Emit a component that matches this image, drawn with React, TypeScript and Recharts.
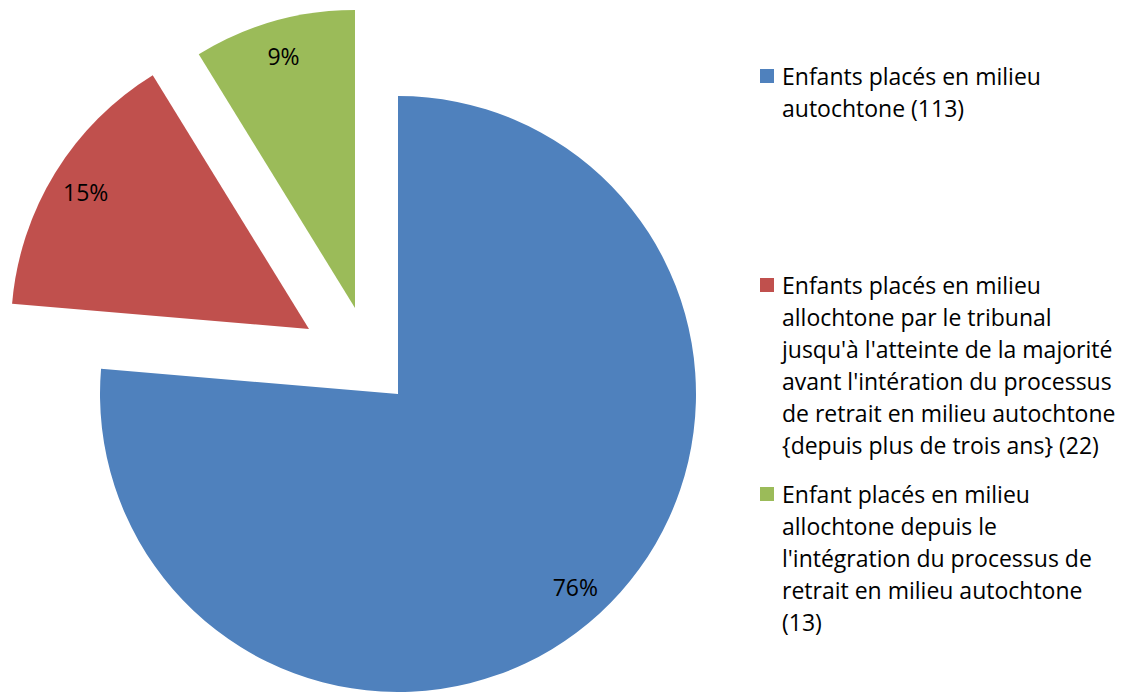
import React from 'react';
import { PieChart, Pie, Cell, Legend } from 'recharts';

// data
const categories = [
  'Enfants placés en milieu autochtone (113)',
  "Enfants placés en milieu allochtone par le tribunal jusqu'à l'atteinte de la majorité avant l'intération du processus de retrait en milieu autochtone {depuis plus de trois ans} (22)",
  "Enfant placés en milieu allochtone depuis le l'intégration du processus de retrait en milieu autochtone (13)"
];
const counts = [113, 22, 13];
const legendLines = [
  ['Enfants placés en milieu', 'autochtone (113)'],
  [
    'Enfants placés en milieu',
    'allochtone par le tribunal',
    "jusqu'à l'atteinte de la majorité",
    "avant l'intération du processus",
    'de retrait en milieu autochtone',
    '{depuis plus de trois ans} (22)'
  ],
  [
    'Enfant placés en milieu',
    'allochtone depuis le',
    "l'intégration du processus de",
    'retrait en milieu autochtone',
    '(13)'
  ]
];

const colors = ['#4F81BD', '#C0504D', '#9BBB59'];
// slice centres (exploded slices sit on their own centre)
const centres = [
  { x: 398, y: 394 },
  { x: 309, y: 329 },
  { x: 355, y: 308 }
];
const legendTops = [60, 269, 478];

const FONT = "'Open Sans', 'Noto Sans', sans-serif";
const RADIAN = Math.PI / 180;

const data = categories.map((name, i) => ({ name, value: counts[i] }));

const makeLabel = (visible: number) => (props: any) => {
  const { cx, cy, midAngle, outerRadius, percent, index } = props;
  if (index !== visible) return null;
  const r = outerRadius * 0.88;
  const x = cx + r * Math.cos(-midAngle * RADIAN);
  const y = cy + r * Math.sin(-midAngle * RADIAN);
  return (
    <text
      x={x}
      y={y}
      fill="#000"
      textAnchor="middle"
      dominantBaseline="central"
      fontFamily={FONT}
      fontSize={23}
    >
      {`${Math.round(percent * 100)}%`}
    </text>
  );
};

const LegendContent = () => (
  <div style={{ position: 'relative', width: 368, height: 692, fontFamily: FONT, fontSize: 23 }}>
    {legendLines.map((lines, i) => (
      <div key={i} style={{ position: 'absolute', left: 0, top: legendTops[i] }}>
        <div
          style={{
            position: 'absolute',
            left: 0,
            top: 9,
            width: 14,
            height: 14,
            background: colors[i]
          }}
        />
        <div style={{ marginLeft: 22, lineHeight: '32px', color: '#000', whiteSpace: 'nowrap' }}>
          {lines.map((l, j) => (
            <div key={j}>{l}</div>
          ))}
        </div>
      </div>
    ))}
  </div>
);

export default function App() {
  return (
    <div style={{ position: 'absolute', left: 0, top: 0, background: '#fff' }}>
      <PieChart width={1128} height={692} margin={{ top: 0, right: 0, bottom: 0, left: 0 }}>
        {centres.map((c, k) => (
          <Pie
            key={k}
            data={data}
            dataKey="value"
            nameKey="name"
            cx={c.x}
            cy={c.y}
            outerRadius={298}
            startAngle={90}
            endAngle={-270}
            stroke="none"
            labelLine={false}
            label={makeLabel(k)}
            isAnimationActive={false}
            legendType="none"
          >
            {data.map((_, i) => (
              <Cell key={i} fill={i === k ? colors[i] : 'transparent'} stroke="none" />
            ))}
          </Pie>
        ))}
        <Legend
          layout="vertical"
          align="right"
          verticalAlign="top"
          content={<LegendContent />}
          wrapperStyle={{ left: 760, top: 0, width: 368, height: 692 }}
        />
      </PieChart>
    </div>
  );
}
